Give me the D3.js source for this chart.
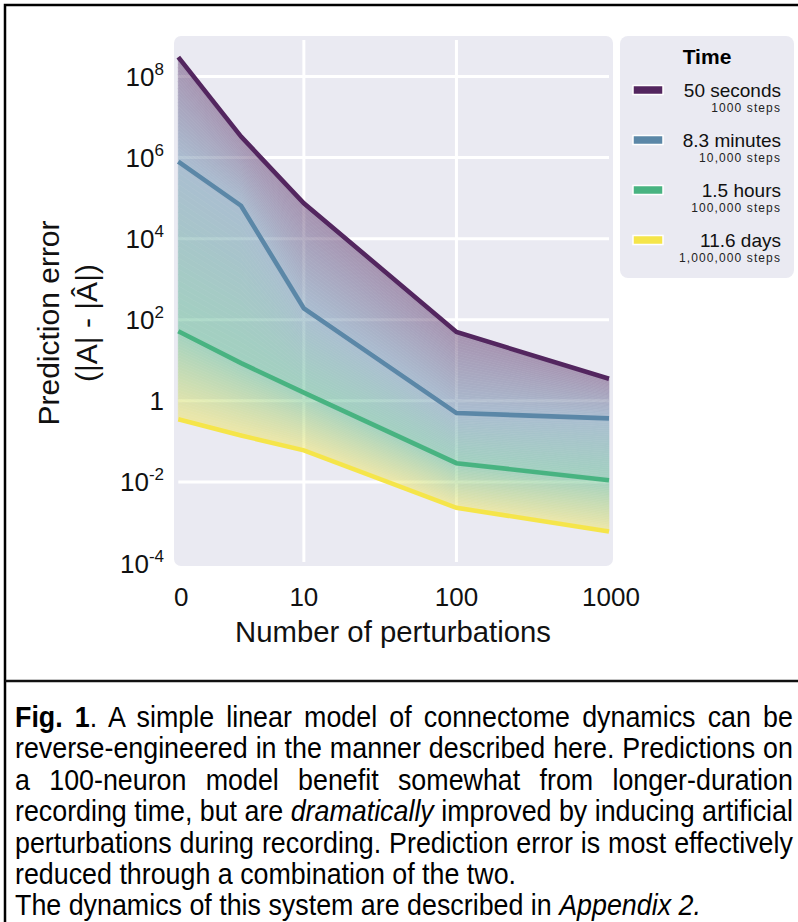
<!DOCTYPE html>
<html>
<head>
<meta charset="utf-8">
<script src="https://cdn.jsdelivr.net/npm/d3@7"></script>
<style>
  body { margin: 0; background: #fff; }
  #wrap { position: relative; width: 798px; height: 922px; overflow: hidden; }
  svg { position: absolute; left: 0; top: 0; }
  #caption {
    position: absolute; left: 15px; top: 702px; width: 841px;
    transform: scaleX(0.925); transform-origin: 0 0;
    font-family: "Liberation Sans", Arial, sans-serif;
    font-size: 29px; line-height: 31.4px; color: #000;
  }
  #caption div { white-space: nowrap; }
  #caption .j { text-align: justify; text-align-last: justify; }
</style>
</head>
<body>
<div id="wrap">
  <svg id="chart"></svg>
  <div id="caption">
    <div class="j"><span><b>Fig. 1</b>. A simple linear model of connectome dynamics can be</span></div>
    <div class="j"><span>reverse-engineered in the manner described here. Predictions on</span></div>
    <div class="j"><span>a 100-neuron model benefit somewhat from longer-duration</span></div>
    <div class="j"><span>recording time, but are <i>dramatically</i> improved by inducing artificial</span></div>
    <div class="j"><span>perturbations during recording. Prediction error is most effectively</span></div>
    <div><span>reduced through a combination of the two.</span></div>
    <div><span>The dynamics of this system are described in <i>Appendix 2.</i></span></div>
  </div>
</div>
<script>
// data
const perturbations = [0, 5, 10, 100, 1000];
const timeLabels = ["50 seconds", "8.3 minutes", "1.5 hours", "11.6 days"];
const stepLabels = ["1000 steps", "10,000 steps", "100,000 steps", "1,000,000 steps"];
const lineColors = ["#53265f", "#5b87a7", "#48b381", "#f5e54a"];
const err50s = [3e8, 3.3e6, 7.5e4, 50, 3.5];
const err8min = [8e5, 6.5e4, 190, 0.5, 0.37];
const err1h = [52, 8.5, 1.6, 0.029, 0.011];
const err11d = [0.35, 0.14, 0.06, 0.0023, 0.0006];
const xTicks = [0, 10, 100, 1000];
const yTickExp = [-4, -2, 0, 2, 4, 6, 8];

const series = [err50s, err8min, err1h, err11d];

// squeeze any caption line that is wider than the column
const capW = 841;
d3.selectAll("#caption div").each(function() {
  const w = this.firstChild.getBoundingClientRect().width / 0.925;
  if (w > capW) {
    d3.select(this)
        .style("text-align", "left").style("text-align-last", "left")
        .style("transform", `scaleX(${capW / w})`).style("transform-origin", "0 0");
  }
});

const svg = d3.select("#chart").attr("width", 798).attr("height", 922);

// outer frame + separator
svg.append("path")
    .attr("d", "M5,922 V5 H800")
    .attr("fill", "none").attr("stroke", "#000").attr("stroke-width", 2.5);
svg.append("line")
    .attr("x1", 5).attr("x2", 800).attr("y1", 681).attr("y2", 681)
    .attr("stroke", "#111").attr("stroke-width", 2.5);

// linear up to 10, log beyond (symlog-like axis)
const linPart = 0.823;
const tx = v => v <= 10 ? v / 10 * linPart : linPart + Math.log10(v / 10);
const x = d3.scaleLinear().domain([0, tx(1000)]).range([178.3, 609]);
const y = d3.scaleLog().domain([1e-4, 1e9]).range([563, 36]);
const X = v => x(tx(v));

// plot background
svg.append("rect")
    .attr("x", 174).attr("y", 36).attr("width", 439).attr("height", 530)
    .attr("rx", 7).attr("fill", "#eaeaf2");

// grid
const grid = svg.append("g").attr("stroke", "#fff").attr("stroke-width", 3);
grid.selectAll(".hg").data(yTickExp.filter(e => e > -4))
  .join("line")
    .attr("x1", X(0)).attr("x2", X(1000))
    .attr("y1", e => y(Math.pow(10, e))).attr("y2", e => y(Math.pow(10, e)));
grid.selectAll(".vg").data([10, 100])
  .join("line")
    .attr("x1", d => X(d)).attr("x2", d => X(d))
    .attr("y1", 40).attr("y2", 562);

// gradient fill between neighbouring lines
const fillG = svg.append("g").attr("opacity", 0.44);
const N = 30;
for (let b = 0; b < series.length - 1; b++) {
  const top = series[b], bot = series[b + 1];
  const col = d3.interpolateRgb(lineColors[b], lineColors[b + 1]);
  for (let k = 0; k < N; k++) {
    const t0 = k / N, t1 = (k + 1) / N;
    const area = d3.area()
        .x((d, i) => X(perturbations[i]))
        .y0((d, i) => y(top[i]) + (y(bot[i]) - y(top[i])) * t0)
        .y1((d, i) => y(top[i]) + (y(bot[i]) - y(top[i])) * t1);
    const c = col((t0 + t1) / 2);
    fillG.append("path")
        .attr("d", area(perturbations))
        .attr("fill", c).attr("stroke", c).attr("stroke-width", 0.6);
  }
}

// lines
const line = d3.line()
    .x((d, i) => X(perturbations[i]))
    .y(d => y(d));
svg.selectAll(".series").data(series)
  .join("path")
    .attr("d", d => line(d))
    .attr("fill", "none")
    .attr("stroke", (d, i) => lineColors[i])
    .attr("stroke-width", 4.6);

const font = "'Liberation Sans', Arial, sans-serif";

// y tick labels
const yl = svg.append("g").attr("font-family", font).attr("font-size", 26).attr("fill", "#111");
yTickExp.forEach(e => {
  const t = yl.append("text")
      .attr("y", y(Math.pow(10, e)) + 9.5);
  if (e === 0) {
    t.text("1");
  } else {
    t.append("tspan").text("10");
    t.append("tspan").attr("font-size", 17).attr("dy", -11).text(e);
  }
});
// right-align whole label including the superscript
yl.selectAll("text").each(function() {
  const bb = this.getBBox();
  d3.select(this).attr("x", 164 - bb.width);
});

// x tick labels
svg.append("g").attr("font-family", font).attr("font-size", 26).attr("fill", "#111")
  .selectAll("text").data(xTicks)
  .join("text")
    .attr("x", d => X(d) + (d === 0 ? 3 : d === 1000 ? 2 : 0))
    .attr("y", 606)
    .attr("text-anchor", "middle")
    .text(d => d);

// axis titles
svg.append("text")
    .attr("x", 393).attr("y", 642)
    .attr("text-anchor", "middle")
    .attr("font-family", font).attr("font-size", 29.3).attr("fill", "#111")
    .text("Number of perturbations");

const yt = svg.append("text")
    .attr("transform", "translate(0,323) rotate(-90)")
    .attr("text-anchor", "middle")
    .attr("font-family", font).attr("font-size", 30).attr("fill", "#111");
yt.append("tspan").attr("x", 0).attr("y", 59).text("Prediction error");
yt.append("tspan").attr("x", 0).attr("y", 97).text("(|A| - |Â|)");

// legend
const lg = svg.append("g");
lg.append("rect")
    .attr("x", 620).attr("y", 36).attr("width", 174).attr("height", 242)
    .attr("rx", 8).attr("fill", "#eaeaf2");
lg.append("text")
    .attr("x", 707).attr("y", 64)
    .attr("text-anchor", "middle")
    .attr("font-family", font).attr("font-size", 21).attr("font-weight", "bold")
    .text("Time");
const entry = lg.selectAll(".entry").data(timeLabels)
  .join("g")
    .attr("transform", (d, i) => `translate(0,${90 + i * 50})`);
entry.append("rect")
    .attr("x", 633).attr("y", -4.5).attr("width", 30).attr("height", 9)
    .attr("fill", (d, i) => lineColors[i])
    .attr("stroke", "#fff").attr("stroke-width", 1.5);
entry.append("text")
    .attr("x", 781).attr("y", 7)
    .attr("text-anchor", "end")
    .attr("font-family", font).attr("font-size", 19).attr("fill", "#111")
    .text(d => d);
entry.append("text")
    .attr("x", 781).attr("y", 22)
    .attr("text-anchor", "end")
    .attr("font-family", font).attr("font-size", 12).attr("letter-spacing", 1.1)
    .attr("fill", "#222")
    .text((d, i) => stepLabels[i]);
</script>
</body>
</html>
